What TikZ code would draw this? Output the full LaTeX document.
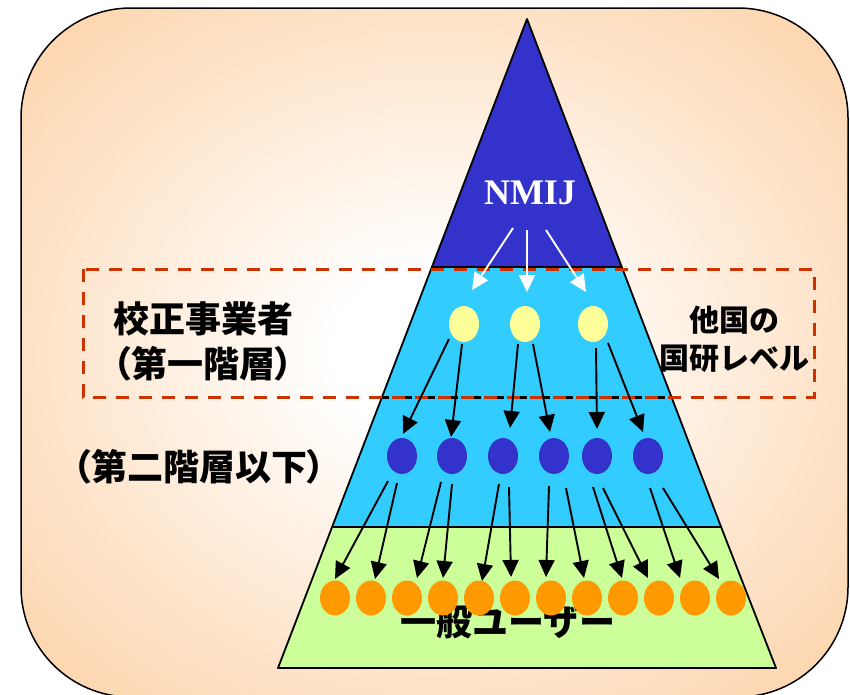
\documentclass[tikz,border=0pt]{standalone}
\usepackage{fontspec}
\newfontfamily\jp{Noto Sans CJK JP}
\newfontfamily\jpp{Noto Sans CJK JP}[RawFeature=+palt]
\newfontfamily\tnr{Liberation Serif}
\usetikzlibrary{arrows.meta,calc,shapes.geometric}
\definecolor{peach}{RGB}{252,200,148}
\definecolor{nblue}{HTML}{3333CC}
\definecolor{ncyan}{HTML}{33CCFF}
\definecolor{ngreen}{HTML}{CCFF99}
\definecolor{nyellow}{HTML}{FFFF99}
\definecolor{norange}{HTML}{FF9900}
\definecolor{nred}{HTML}{CC3300}
\pgfdeclareradialshading{bgshade}{\pgfpoint{0bp}{0bp}}{color(0bp)=(white);color(6bp)=(white);color(42bp)=(peach);color(50bp)=(peach)}
\begin{document}
\begin{tikzpicture}[x=1pt,y=-1pt,
  ell/.style={ellipse, inner sep=0pt, minimum width=30pt, minimum height=36pt},
  yel/.style={ell, fill=nyellow},
  blu/.style={ell, fill=nblue},
  ora/.style={ell, fill=norange, minimum height=35pt},
  band/.style={draw=black, line width=1.8pt, line join=round},
  barr/.style={line width=1.9pt, -{Triangle[length=17pt,width=16pt]}},
  warr/.style={barr, white},
  jpbig/.style={font={\jp\bfseries\fontsize{36}{45}\selectfont}, text=black, inner sep=0pt},
  jpmid/.style={font={\jp\bfseries\fontsize{30}{38}\selectfont}, text=black, inner sep=0pt},
  dashbox/.style={line width=3pt, dash pattern=on 13pt off 10pt}
]
\useasboundingbox (0,0) rectangle (850,694);
% background panel
\path[shading=bgshade, rounded corners=110pt] (21,8) rectangle (848,697);
\draw[line width=1.5pt, rounded corners=110pt] (21,8) rectangle (848,697);

% pyramid bands
\path[band, fill=nblue] (527,19) -- (621.8,267) -- (431.9,267) -- cycle;
\path[band, fill=ncyan] (431.9,267) -- (621.8,267) -- (721.1,527) -- (332.1,527) -- cycle;
\path[band, fill=ngreen] (332.1,527) -- (721.1,527) -- (776,668) -- (278,668) -- cycle;

% dashed frame
\draw[dashbox, black, dash phase=6pt] (382,397) -- (671,397);
\draw[dashbox, nred] (83,269) rectangle (814,397);

% texts
\node[text=white, font={\tnr\bfseries\fontsize{36}{40}\selectfont}, inner sep=0pt] (nmij) at (530,193) {NMIJ};
\node[jpbig, align=left, anchor=west] (lay1) at (113,341) {校正事業者\\{\jpp\bfseries （}第一階層{\jpp\bfseries ）}};
\node[jpbig, anchor=west] (lay2) at (73,467) {{\jpp\bfseries （}第二階層以下{\jpp\bfseries ）}};
\node[jpmid, align=center] (other) at (734,339) {他国の\\国研レベル};
\node[jpbig] (user) at (508,622) {一般ユーザー};

% ellipses
\node[yel] (y1) at (464,324) {};
\node[yel] (y2) at (525,324) {};
\node[yel] (y3) at (593,324) {};
\foreach \i/\x in {1/402,2/452,3/503,4/554,5/597,6/648}
  \node[blu] (b\i) at (\x,456) {};
\foreach \i in {1,...,12}
  \node[ora] (o\i) at ({335+36*(\i-1)},598) {};

% white arrows
\draw[warr] ($(nmij)+(-17,35)$) -- ($(y1)+(8,-34)$);
\draw[warr] ($(nmij)+(-3,37)$) -- ($(y2)+(2,-32)$);
\draw[warr] ($(nmij)+(16,37)$) -- ($(y3)+(-7,-32)$);

% yellow -> blue
\draw[barr] ($(y1)+(-15,15)$) -- ($(b1)+(1,-22)$);
\draw[barr] ($(y1)+(-2,20)$) -- ($(b2)+(-1,-19)$);
\draw[barr] ($(y2)+(-7,20)$) -- ($(b3)+(7,-28)$);
\draw[barr] ($(y2)+(8,20)$) -- ($(b4)+(-4,-24)$);
\draw[barr] ($(y3)+(3,24)$) -- ($(b5)+(0,-27)$);
\draw[barr] ($(y3)+(15,19)$) -- ($(b6)+(-5,-24)$);

% blue -> orange
\draw[barr] ($(b1)+(-14,25)$) -- ($(o1)+(0,-19)$);
\draw[barr] ($(b1)+(-5,27)$) -- ($(o2)+(4,-19)$);
\draw[barr] ($(b2)+(-11,26)$) -- ($(o3)+(10,-20)$);
\draw[barr] ($(b2)+(0,28)$) -- ($(o4)+(0,-20)$);
\draw[barr] ($(b3)+(-4,28)$) -- ($(o5)+(3,-17)$);
\draw[barr] ($(b3)+(6,31)$) -- ($(o6)+(-4,-21)$);
\draw[barr] ($(b4)+(-5,30)$) -- ($(o7)+(-5,-21)$);
\draw[barr] ($(b4)+(12,32)$) -- ($(o8)+(-3,-20)$);
\draw[barr] ($(b5)+(-4,31)$) -- ($(o9)+(-1,-20)$);
\draw[barr] ($(b5)+(6,32)$) -- ($(o10)+(-11,-20)$);
\draw[barr] ($(b6)+(2,32)$) -- ($(o11)+(-15,-20)$);
\draw[barr] ($(b6)+(15,32)$) -- ($(o12)+(-12,-19)$);
\end{tikzpicture}
\end{document}
